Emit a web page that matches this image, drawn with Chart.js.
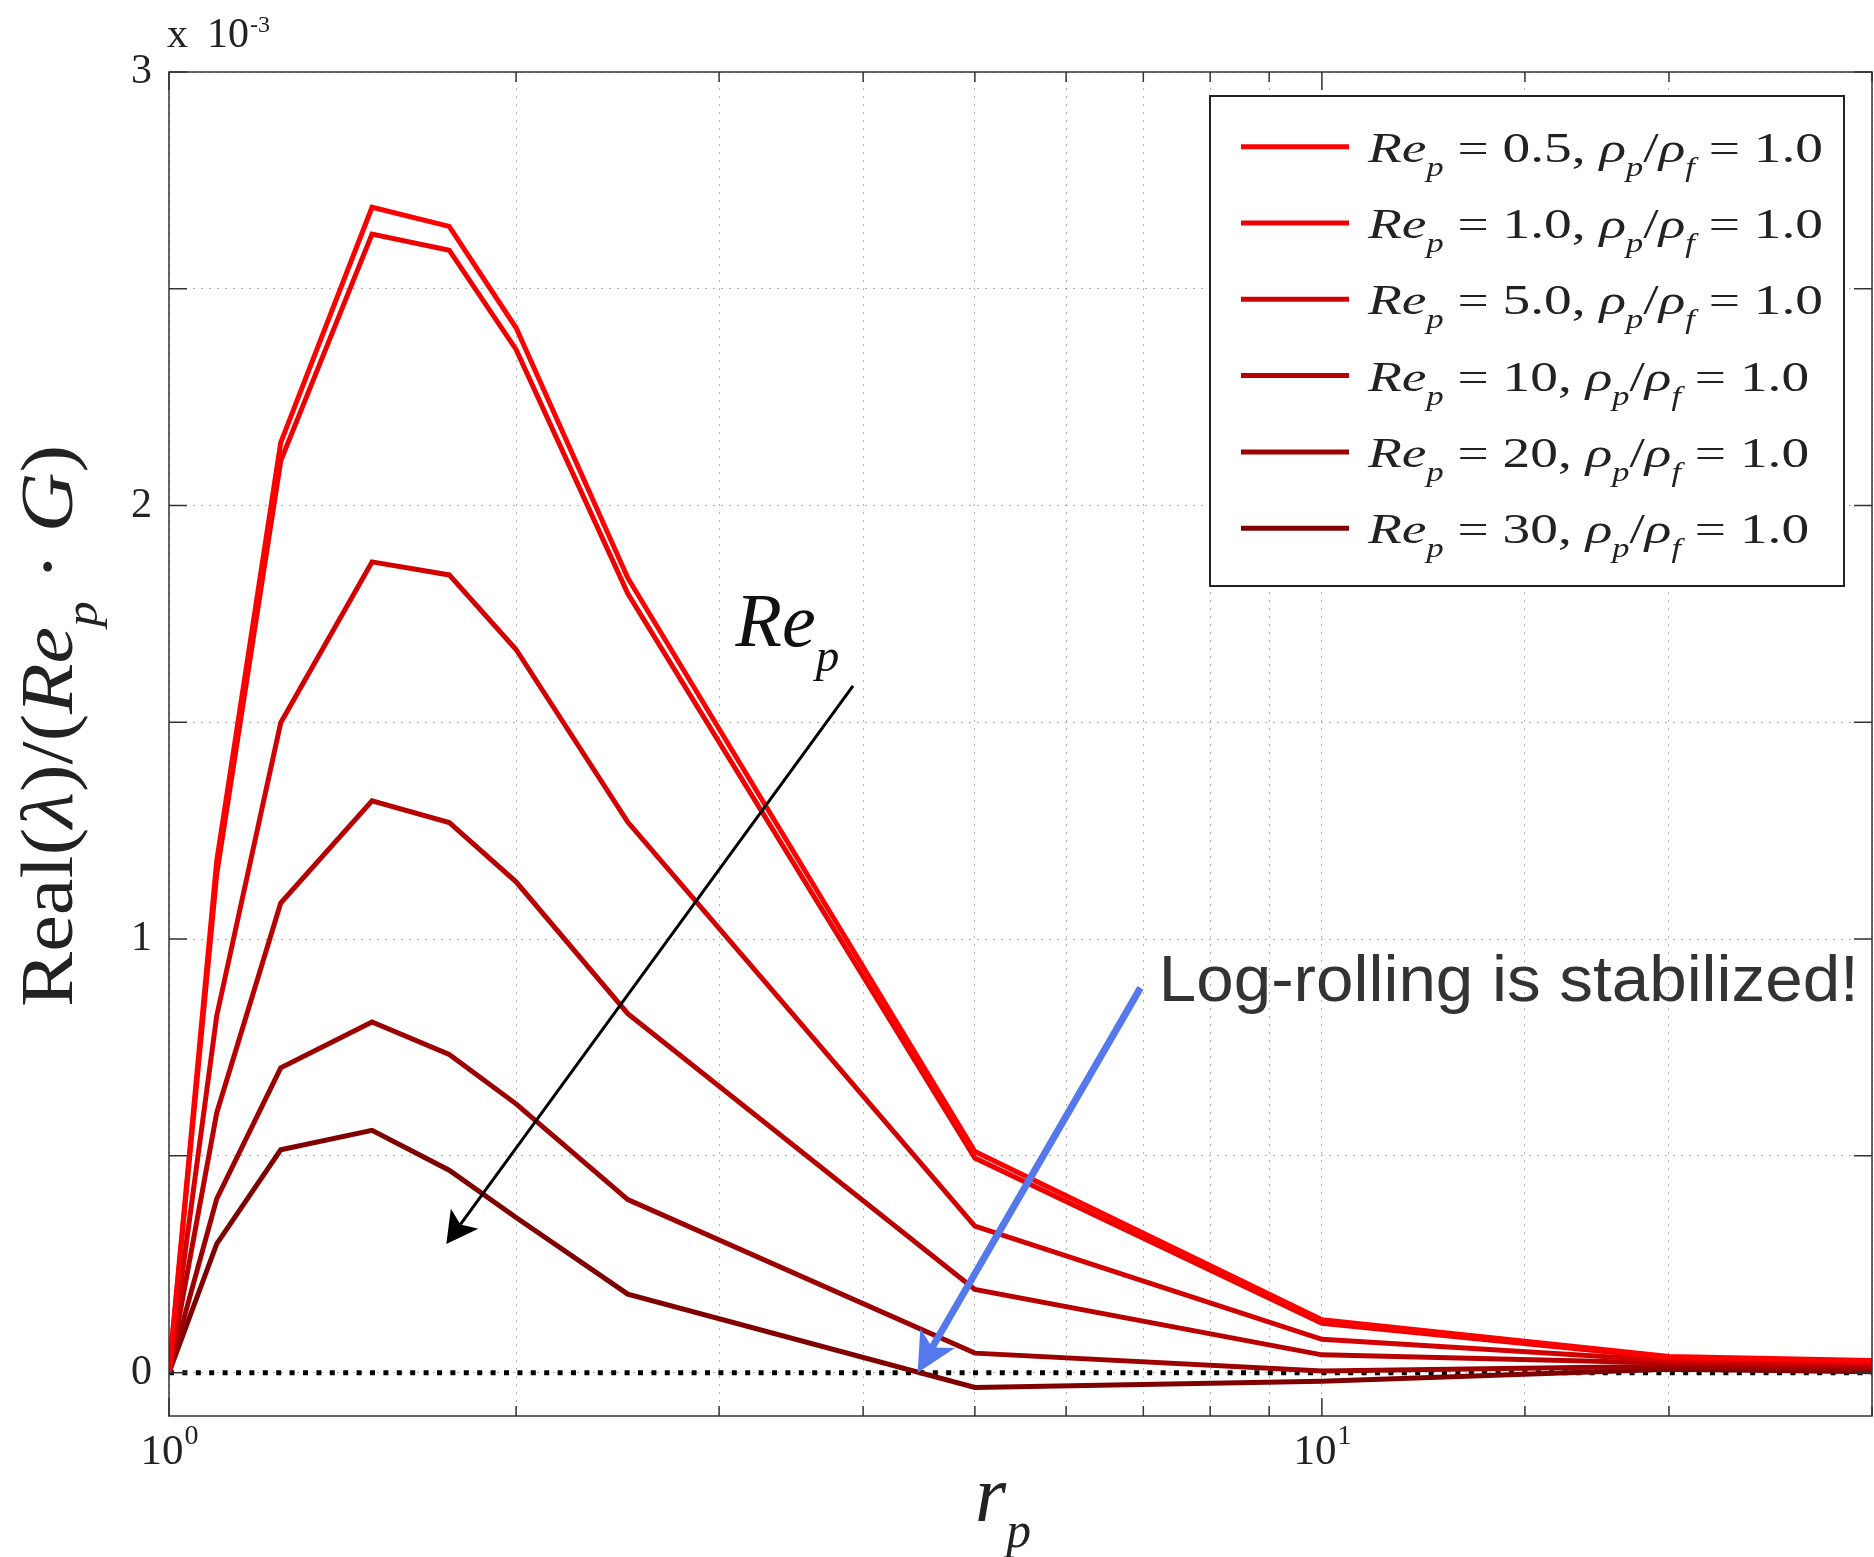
<!DOCTYPE html>
<html>
<head>
<meta charset="utf-8">
<script src="https://cdn.jsdelivr.net/npm/chart.js@4.4.0/dist/chart.umd.min.js"></script>
<style>
  html, body { margin: 0; padding: 0; background: #fff; }
  #wrap { width: 1874px; height: 1557px; }
</style>
</head>
<body>
<div id="wrap"><canvas id="growth" width="1874" height="1557"></canvas></div>
<script>
// r_p values (log axis) and Real(lambda)/(Re_p*G) in units of 1e-3
const rp = [1, 1.1, 1.25, 1.5, 1.75, 2, 2.5, 5, 10, 20, 30];
const re05 = [0, 1.18, 2.145, 2.688, 2.644, 2.410, 1.833, 0.510, 0.122, 0.037, 0.028];
const re1 = [0, 1.15, 2.103, 2.626, 2.589, 2.360, 1.797, 0.495, 0.114, 0.034, 0.026];
const re5 = [0, 0.823, 1.499, 1.870, 1.840, 1.668, 1.270, 0.338, 0.077, 0.028, 0.020];
const re10 = [0, 0.599, 1.083, 1.319, 1.269, 1.132, 0.828, 0.192, 0.041, 0.022, 0.015];
const re20 = [0, 0.401, 0.703, 0.809, 0.734, 0.620, 0.399, 0.045, 0.004, 0.015, 0.008];
const re30 = [0, 0.297, 0.514, 0.559, 0.467, 0.358, 0.181, -0.034, -0.020, 0.008, 0.002];

const reLabels = ['0.5', '1.0', '5.0', '10', '20', '30'];
const rhoRatio = '1.0';
const lineColors = ['#ff0000', '#ee0000', '#d20000', '#b80000', '#9c0000', '#800000'];
const xTickLabels = [{ value: 1, exp: '0' }, { value: 10, exp: '1' }];

// annotations, in data coordinates
const arrowRe = { from: [3.92, 1.584], to: [1.74, 0.297] };
const arrowStable = { from: [6.96, 0.8875], to: [4.46, 0.0] };
const noteRe = [3.1, 1.676];
const noteStable = { at: [7.22, 0.858], text: 'Log-rolling is stabilized!' };

const SERIF = '"Liberation Serif", "DejaVu Serif", serif';
const SANS = '"Liberation Sans", Arial, sans-serif';

const series = [re05, re1, re5, re10, re20, re30];
const toPts = arr => arr.map((v, i) => ({ x: rp[i], y: v }));

const datasets = series.map((s, i) => ({
  label: 'Re_p = ' + reLabels[i] + ', rho_p/rho_f = ' + rhoRatio,
  reLabel: reLabels[i],
  data: toPts(s),
  borderColor: lineColors[i],
  borderWidth: 5,
  order: i
}));
datasets.push({
  label: 'zero',
  data: [{ x: rp[0], y: 0 }, { x: rp[rp.length - 1], y: 0 }],
  borderColor: '#000',
  borderWidth: 5,
  borderDash: [5, 8.4],
  order: 20
});

// rich text helpers (italic math + subscripts)
function segFont(seg, size) {
  const s = seg.sub ? size * 0.62 : size;
  return (seg.it ? 'italic ' : '') + s + 'px ' + SERIF;
}
function richWidth(ctx, segs, size) {
  let w = 0;
  segs.forEach(seg => { ctx.font = segFont(seg, size); w += ctx.measureText(seg.t).width; });
  return w;
}
function drawRich(ctx, segs, x, y, size, targetW) {
  const w = richWidth(ctx, segs, size);
  const sx = targetW ? targetW / w : 1;
  ctx.save();
  ctx.translate(x, y);
  ctx.scale(sx, 1);
  let cx = 0;
  segs.forEach(seg => {
    ctx.font = segFont(seg, size);
    const dy = seg.sub ? size * 0.33 : 0;
    ctx.fillText(seg.t, cx, dy);
    cx += ctx.measureText(seg.t).width;
  });
  ctx.restore();
  return w * sx;
}

function drawArrow(ctx, x0, y0, x1, y1, width, color, headLen, headHalf, notch) {
  const dx = x1 - x0, dy = y1 - y0, len = Math.hypot(dx, dy);
  const ux = dx / len, uy = dy / len, nx = -uy, ny = ux;
  ctx.save();
  ctx.strokeStyle = color; ctx.fillStyle = color;
  ctx.lineWidth = width; ctx.lineCap = 'butt';
  ctx.beginPath();
  ctx.moveTo(x0, y0);
  ctx.lineTo(x1 - ux * notch, y1 - uy * notch);
  ctx.stroke();
  const bx = x1 - ux * headLen, by = y1 - uy * headLen;
  ctx.beginPath();
  ctx.moveTo(x1, y1);
  ctx.lineTo(bx + nx * headHalf, by + ny * headHalf);
  ctx.lineTo(x1 - ux * notch, y1 - uy * notch);
  ctx.lineTo(bx - nx * headHalf, by - ny * headHalf);
  ctx.closePath();
  ctx.fill();
  ctx.restore();
}

const decorations = {
  id: 'decorations',
  afterDraw(chart) {
    const { ctx, chartArea: a, scales: { x, y } } = chart;
    ctx.save();

    // tick marks (inward, all four sides) and box
    ctx.strokeStyle = '#333';
    ctx.lineWidth = 1.5;
    ctx.beginPath();
    y.ticks.forEach(t => {
      const py = y.getPixelForValue(t.value);
      ctx.moveTo(a.left, py); ctx.lineTo(a.left + 18, py);
      ctx.moveTo(a.right, py); ctx.lineTo(a.right - 18, py);
    });
    x.ticks.forEach(t => {
      const px = x.getPixelForValue(t.value);
      const major = Math.abs(Math.log10(t.value) - Math.round(Math.log10(t.value))) < 1e-9;
      const len = major ? 18 : 10;
      ctx.moveTo(px, a.bottom); ctx.lineTo(px, a.bottom - len);
      ctx.moveTo(px, a.top); ctx.lineTo(px, a.top + len);
    });
    ctx.stroke();
    ctx.strokeRect(a.left, a.top, a.right - a.left, a.bottom - a.top);

    ctx.fillStyle = '#222';
    ctx.textBaseline = 'alphabetic';
    ctx.textAlign = 'left';

    // x tick labels 10^0, 10^1
    xTickLabels.forEach(t => {
      ctx.font = '43px ' + SERIF;
      const wb = ctx.measureText('10').width;
      ctx.font = '28px ' + SERIF;
      const we = ctx.measureText(t.exp).width;
      const px = x.getPixelForValue(t.value) - (wb + we) / 2;
      ctx.font = '43px ' + SERIF;
      ctx.fillText('10', px, 1464);
      ctx.font = '28px ' + SERIF;
      ctx.fillText(t.exp, px + wb + 1, 1444);
    });

    // exponent label
    ctx.font = '42px ' + SERIF;
    ctx.fillText('x', 167, 47);
    ctx.fillText('10', 207, 47);
    ctx.font = '24px ' + SERIF;
    ctx.fillText('-3', 250, 32);

    // axis labels
    drawRich(ctx, [{ t: 'r', it: true }, { t: 'p', it: true, sub: true }], 975, 1521, 80);
    ctx.save();
    ctx.translate(72, 726);
    ctx.rotate(-Math.PI / 2);
    const ySegs = [
      { t: 'Real(' }, { t: 'λ', it: true }, { t: ')/(' },
      { t: 'Re', it: true }, { t: 'p', it: true, sub: true },
      { t: ' · ' }, { t: 'G', it: true }, { t: ')' }
    ];
    drawRich(ctx, ySegs, -281, 0, 75, 562);
    ctx.restore();

    // annotations
    const P = (v) => [x.getPixelForValue(v[0]), y.getPixelForValue(v[1])];
    const a0 = P(arrowRe.from), a1 = P(arrowRe.to);
    drawArrow(ctx, a0[0], a0[1], a1[0], a1[1], 3, '#000', 31, 17, 24);
    const b0 = P(arrowStable.from), b1 = P(arrowStable.to);
    drawArrow(ctx, b0[0], b0[1], b1[0], b1[1], 7, 'rgb(86,120,237)', 40, 20, 29);

    const r = P(noteRe);
    ctx.fillStyle = '#111';
    drawRich(ctx, [{ t: 'Re', it: true }, { t: 'p', it: true, sub: true }], r[0], r[1], 76);

    const s = P(noteStable.at);
    ctx.fillStyle = '#333';
    ctx.font = '65px ' + SANS;
    const sw = ctx.measureText(noteStable.text).width;
    ctx.save();
    ctx.translate(s[0], s[1]);
    ctx.scale(700 / sw, 1);
    ctx.fillText(noteStable.text, 0, 0);
    ctx.restore();

    // legend
    const box = { l: 1210, t: 96, w: 634, h: 490 };
    ctx.fillStyle = '#fff';
    ctx.fillRect(box.l, box.t, box.w, box.h);
    ctx.strokeStyle = '#222';
    ctx.lineWidth = 2;
    ctx.strokeRect(box.l, box.t, box.w, box.h);
    const items = chart.data.datasets.filter(d => d.reLabel);
    const legSegs = lab => [
      { t: 'Re', it: true }, { t: 'p', it: true, sub: true },
      { t: ' = ' + lab + ', ' },
      { t: 'ρ', it: true }, { t: 'p', it: true, sub: true }, { t: '/' },
      { t: 'ρ', it: true }, { t: 'f', it: true, sub: true },
      { t: ' = ' + rhoRatio }
    ];
    const legScale = 455 / richWidth(ctx, legSegs(reLabels[0]), 43);
    items.forEach((d, i) => {
      const ly = 146.7 + i * 76.3;
      ctx.strokeStyle = d.borderColor;
      ctx.lineWidth = 5;
      ctx.beginPath();
      ctx.moveTo(1241, ly); ctx.lineTo(1349, ly);
      ctx.stroke();
      ctx.fillStyle = '#222';
      const segs = legSegs(d.reLabel);
      drawRich(ctx, segs, 1368, ly + 15, 43, richWidth(ctx, segs, 43) * legScale);
    });

    ctx.restore();
  }
};

new Chart(document.getElementById('growth'), {
  type: 'line',
  data: { datasets },
  options: {
    responsive: false,
    animation: false,
    layout: { padding: { left: 0, top: 72, right: 2, bottom: 0 } },
    plugins: { legend: { display: false }, tooltip: { enabled: false } },
    elements: {
      point: { radius: 0 },
      line: { tension: 0, borderJoinStyle: 'miter', borderCapStyle: 'butt' }
    },
    scales: {
      x: {
        type: 'logarithmic',
        min: 1,
        max: 30,
        afterFit(scale) { scale.height = 141; },
        ticks: { display: false },
        grid: { color: 'rgba(0,0,0,0.3)', lineWidth: 1, drawTicks: false },
        border: { display: false, dash: [2, 6] }
      },
      y: {
        min: -0.1,
        max: 3,
        afterFit(scale) { scale.width = 169; },
        ticks: {
          stepSize: 0.5,
          includeBounds: false,
          padding: 17,
          color: '#222',
          font: { family: SERIF, size: 42 },
          callback: v => Number.isInteger(v) ? String(v) : ''
        },
        grid: { color: 'rgba(0,0,0,0.3)', lineWidth: 1, drawTicks: false },
        border: { display: false, dash: [2, 6] }
      }
    }
  },
  plugins: [decorations]
});
</script>
</body>
</html>
